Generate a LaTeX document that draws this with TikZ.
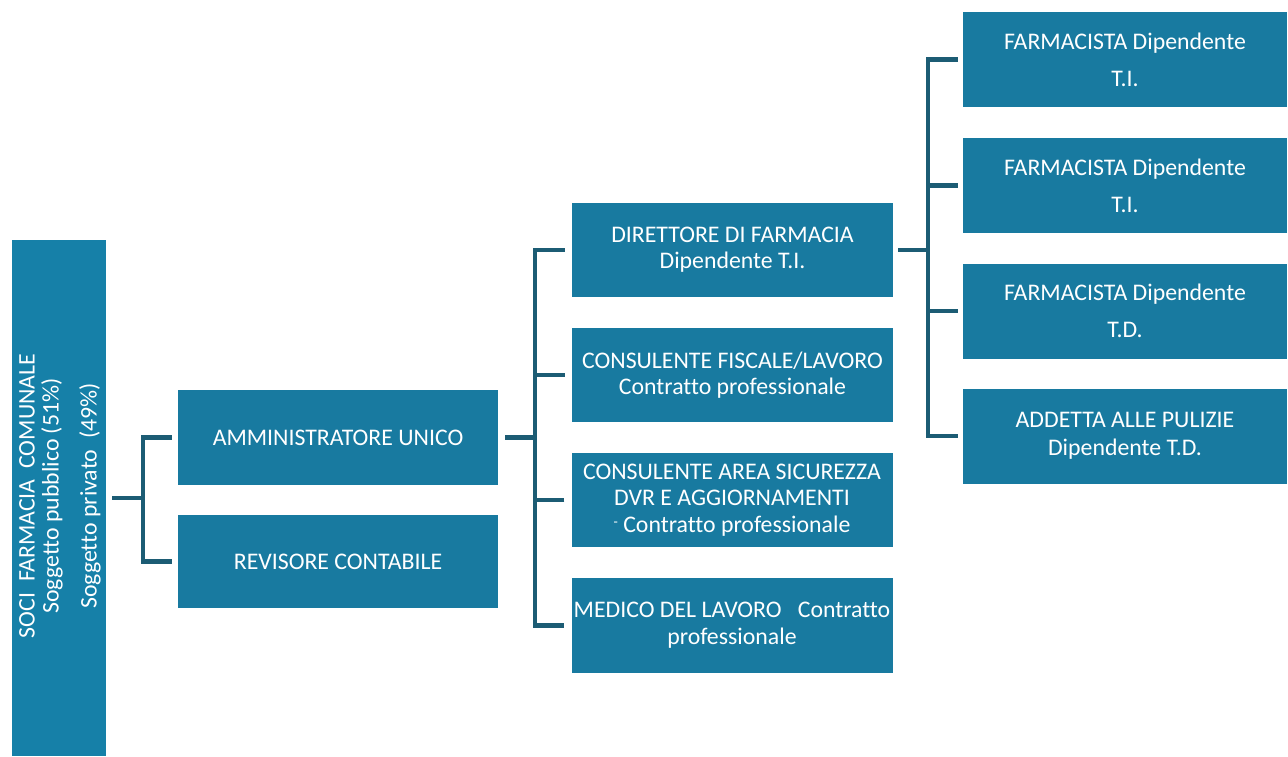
\documentclass[tikz,border=0pt]{standalone}
\usepackage{fontspec}
\setmainfont{Carlito}[Ligatures=NoCommon]
\definecolor{boxfill}{RGB}{24,122,160}
\definecolor{sociFill}{RGB}{22,128,168}
\definecolor{connColor}{RGB}{28,92,116}
\tikzset{
  orgbox/.style={rectangle, fill=boxfill, text=white, inner sep=0pt, align=center,
    minimum width=321pt, minimum height=94pt,
    font=\fontsize{23.8}{26}\selectfont},
  farmbox/.style={orgbox, minimum width=324pt, minimum height=95pt,
    font=\fontsize{23.8}{37}\selectfont},
  conn/.style={draw=connColor, line width=4.5pt, line join=miter}
}
\begin{document}
\begin{tikzpicture}[x=1pt, y=-1pt]
\useasboundingbox[fill=white] (0,0) rectangle (1288,756);
% left column
\node[orgbox, fill=sociFill, minimum width=94pt, minimum height=516pt] (soci) at (59,498) {};
\node[rotate=90, text=white, align=center, inner sep=0pt,
  font=\fontsize{23.8}{24}\selectfont] (socitext) at (60,496)
  {SOCI\ \ FARMACIA\ \ COMUNALE\\ Soggetto pubblico (51\%)\\[14pt] Soggetto privato\ \ (49\%)};
% second column
\node[orgbox, minimum width=320pt, minimum height=95pt] (amm) at (338,437.5) {AMMINISTRATORE UNICO};
\node[orgbox, minimum width=320pt, minimum height=93pt] (rev) at (338,561.5) {REVISORE CONTABILE};
% third column
\node[orgbox] (dir) at (732.5,250) {DIRETTORE DI FARMACIA\\ Dipendente T.I.};
\node[orgbox] (cfl) at (732.5,375) {CONSULENTE FISCALE/LAVORO\\ Contratto professionale};
\node[orgbox, font=\fontsize{23.8}{26.5}\selectfont] (cas) at (732,500) {CONSULENTE AREA SICUREZZA\\ DVR E AGGIORNAMENTI\\ {\raisebox{0.25em}{\fontsize{14}{14}\selectfont -}}\ Contratto professionale};
\node[orgbox, minimum height=95pt, font=\fontsize{23.8}{27}\selectfont] (med) at (732,625.5) {MEDICO DEL LAVORO\ \ \ Contratto\\ professionale};
% fourth column
\node[farmbox] (f1) at (1125,59.5) {FARMACISTA Dipendente\\ T.I.};
\node[farmbox] (f2) at (1125,185.5) {FARMACISTA Dipendente\\ T.I.};
\node[farmbox] (f3) at (1125,311) {FARMACISTA Dipendente\\ T.D.};
\node[farmbox, font=\fontsize{23.8}{28}\selectfont] (add) at (1125,436) {ADDETTA ALLE PULIZIE\\ Dipendente T.D.};
% junctions
\coordinate (j1) at (143,498);
\coordinate (j2) at (535,437.5);
\coordinate (j3) at (928,250);
% connectors
\draw[conn] ([xshift=6pt]soci.east) -- (j1);
\draw[conn] ([xshift=-6pt]amm.west) -- (amm.west -| j1) -- (rev.west -| j1) -- ([xshift=-6pt]rev.west);
\draw[conn] ([xshift=7pt]amm.east) -- (j2);
\draw[conn] ([xshift=-7pt]dir.west) -- (dir.west -| j2) -- (med.west -| j2) -- ([xshift=-7pt]med.west);
\draw[conn] ([xshift=-7pt]cfl.west) -- (cfl.west -| j2);
\draw[conn] ([xshift=-7pt]cas.west) -- (cas.west -| j2);
\draw[conn] ([xshift=5pt]dir.east) -- (j3);
\draw[conn] ([xshift=-5pt]f1.west) -- (f1.west -| j3) -- (add.west -| j3) -- ([xshift=-5pt]add.west);
\draw[conn] ([xshift=-5pt]f2.west) -- (f2.west -| j3);
\draw[conn] ([xshift=-5pt]f3.west) -- (f3.west -| j3);
\end{tikzpicture}
\end{document}
